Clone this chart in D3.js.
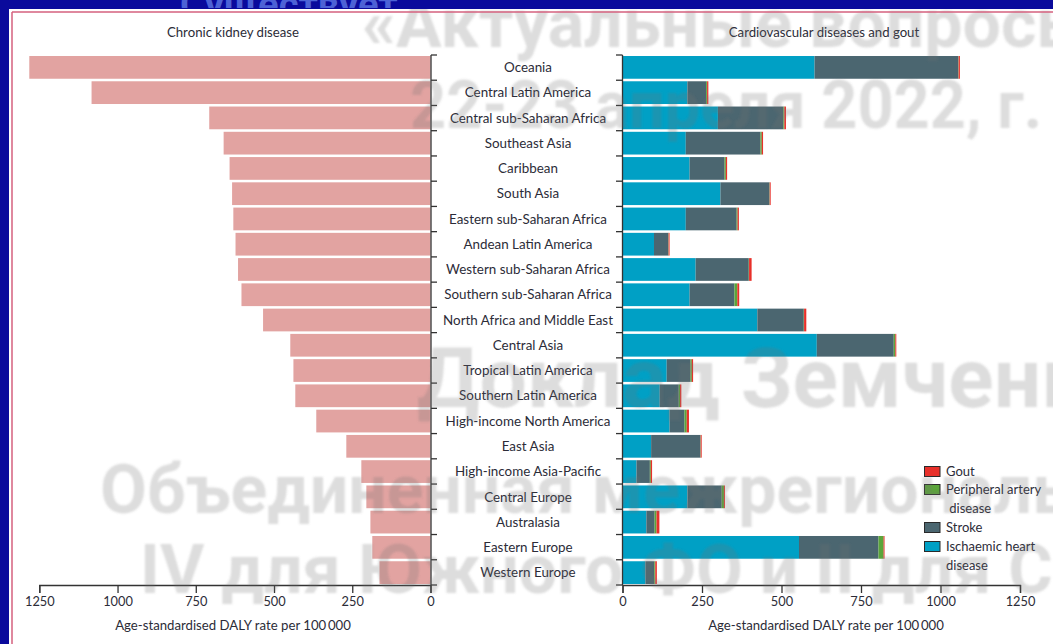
<!DOCTYPE html>
<html>
<head>
<meta charset="utf-8">
<script src="https://cdn.jsdelivr.net/npm/d3@7"></script>
<style>
  html, body { margin: 0; padding: 0; background: #ffffff; }
  svg { display: block; }
  text { font-family: Lato, "Open Sans", sans-serif; }
</style>
</head>
<body>
<svg id="chart" width="1053" height="644"></svg>
<script>
// GBD regions, ordered by chronic kidney disease burden
const regions = [
  "Oceania", "Central Latin America", "Central sub-Saharan Africa", "Southeast Asia",
  "Caribbean", "South Asia", "Eastern sub-Saharan Africa", "Andean Latin America",
  "Western sub-Saharan Africa", "Southern sub-Saharan Africa", "North Africa and Middle East",
  "Central Asia", "Tropical Latin America", "Southern Latin America",
  "High-income North America", "East Asia", "High-income Asia-Pacific",
  "Central Europe", "Australasia", "Eastern Europe", "Western Europe"
];

// Age-standardised DALY rate per 100 000
const ckdRate = [1282, 1083, 707, 661, 642, 634, 630, 623, 615, 604, 535,
                 448, 438, 432, 365, 269, 221, 205, 192, 186, 163];

const ihdRate    = [604, 204, 300, 199, 211, 308, 199, 99, 230, 211, 424, 611, 139, 117, 148, 90, 44, 204, 75, 555, 72];
const strokeRate = [452, 59, 206, 235, 110, 154, 160, 45, 167, 141, 146, 242, 75, 60, 47, 155, 42, 108, 26, 250, 28];
const padRate    = [1, 3, 3, 4, 4, 1, 3, 1, 1, 9, 1, 5, 4, 4, 7, 1, 3, 7, 6, 16, 3];
const goutRate   = [4, 4, 5, 4, 4, 3, 4, 3, 8, 6, 7, 3, 4, 4, 7, 3, 4, 3, 9, 3, 5];

const xTicks = [0, 250, 500, 750, 1000, 1250];

const causeKeys   = ["ihd", "stroke", "pad", "gout"];
const causeColors = { ihd: "#00a0c5", stroke: "#4b6670", pad: "#5ba53a", gout: "#e8302a" };
const legendItems = [
  { key: "gout",   lines: ["Gout"] },
  { key: "pad",    lines: ["Peripheral artery", " disease"] },
  { key: "stroke", lines: ["Stroke"] },
  { key: "ihd",    lines: ["Ischaemic heart", "disease"] }
];

// overlay lines of the conference slide
const slideLines = [
  { x: 362, y: 47,  size: 68, t: "«Актуальные вопросы" },
  { x: 410, y: 128, size: 66, len: 632, t: "22-23 апреля 2022, г." },
  { x: 417, y: 407, size: 84, t: "Доклад Земченкова А.Ю." },
  { x: 100, y: 513, size: 68, t: "Объединенная межрегиональная" },
  { x: 140, y: 593, size: 68, t: "IV для Южного ФО и II для Северо-Кавказского ФО" }
];

const svg = d3.select("#chart");
const ink = "#2c2c38";
const defs = svg.append("defs");
defs.append("filter").attr("id", "soft").append("feGaussianBlur").attr("stdDeviation", 0.9);
defs.append("clipPath").attr("id", "topClip").append("rect")
  .attr("x", 0).attr("y", 0).attr("width", 1053).attr("height", 8);

// shared vertical band scale
const y = d3.scaleBand().domain(regions).range([55, 585]).paddingInner(0.1).paddingOuter(0.04);

// left panel: chronic kidney disease (mirrored)
const xL = d3.scaleLinear().domain([0, 1250]).range([430.5, 39.3]);
const left = svg.append("g");
left.selectAll("rect.ckd").data(regions).join("rect")
  .attr("class", "ckd")
  .attr("x", (d, i) => xL(ckdRate[i]))
  .attr("y", d => y(d))
  .attr("width", (d, i) => xL(0) - xL(ckdRate[i]))
  .attr("height", y.bandwidth())
  .attr("fill", "#e2a3a1");

function styleAxis(g) {
  g.select(".domain").attr("stroke", "#333").attr("stroke-width", 1.3);
  g.selectAll(".tick line").attr("stroke", "#333").attr("stroke-width", 1.3);
  g.selectAll(".tick text").attr("font-size", 12.8).attr("fill", ink).style("font-family", "Lato, sans-serif");
}

left.append("g").attr("transform", "translate(0,585)")
  .call(d3.axisBottom(xL).tickValues(xTicks).tickFormat(d3.format("d")).tickSizeOuter(0).tickSize(8).tickPadding(4))
  .call(styleAxis);

// band boundary ticks on the category spines
const bounds = d3.range(regions.length + 1).map(i => 55 + i * (530 / regions.length));
const spineL = svg.append("g").attr("stroke", "#333").attr("stroke-width", 1.3);
spineL.append("line").attr("x1", 431).attr("x2", 431).attr("y1", 55).attr("y2", 585);
spineL.selectAll("line.t").data(bounds).join("line").attr("class", "t")
  .attr("x1", 431).attr("x2", 437).attr("y1", d => d).attr("y2", d => d);

// right panel: cardiovascular diseases and gout, stacked
const xR = d3.scaleLinear().domain([0, 1250]).range([622.5, 1020]);
const rows = regions.map((r, i) => ({
  region: r, ihd: ihdRate[i], stroke: strokeRate[i], pad: padRate[i], gout: goutRate[i]
}));
const stacked = d3.stack().keys(causeKeys)(rows);
const right = svg.append("g");
right.selectAll("g.layer").data(stacked).join("g")
  .attr("class", "layer")
  .attr("fill", s => causeColors[s.key])
  .selectAll("rect").data(s => s).join("rect")
  .attr("x", d => xR(d[0]))
  .attr("y", d => y(d.data.region))
  .attr("width", d => xR(d[1]) - xR(d[0]))
  .attr("height", y.bandwidth());

right.append("g").attr("transform", "translate(0,585)")
  .call(d3.axisBottom(xR).tickValues(xTicks).tickFormat(d3.format("d")).tickSizeOuter(0).tickSize(8).tickPadding(4))
  .call(styleAxis);

const spineR = svg.append("g").attr("stroke", "#333").attr("stroke-width", 1.3);
spineR.append("line").attr("x1", 622.5).attr("x2", 622.5).attr("y1", 55).attr("y2", 585);
spineR.selectAll("line.t").data(bounds).join("line").attr("class", "t")
  .attr("x1", 616).attr("x2", 622.5).attr("y1", d => d).attr("y2", d => d);

// region labels between the panels
svg.append("g").selectAll("text").data(regions).join("text")
  .attr("x", 528)
  .attr("y", d => y(d) + y.bandwidth() / 2)
  .attr("dy", "0.35em")
  .attr("text-anchor", "middle")
  .attr("font-size", 13.4)
  .attr("fill", ink)
  .text(d => d);

// panel titles and axis titles
const titles = [
  { x: 233, y: 37, t: "Chronic kidney disease" },
  { x: 824, y: 37, t: "Cardiovascular diseases and gout" },
  { x: 233, y: 630, t: "Age-standardised DALY rate per 100\u2009000" },
  { x: 826, y: 630, t: "Age-standardised DALY rate per 100\u2009000" }
];
svg.append("g").selectAll("text").data(titles).join("text")
  .attr("x", d => d.x).attr("y", d => d.y)
  .attr("text-anchor", "middle").attr("font-size", 13.2).attr("fill", ink)
  .text(d => d.t);

// legend
const lg = svg.append("g");
const legendY = { gout: 466, pad: 484, stroke: 522, ihd: 541 };
legendItems.forEach(item => {
  const y0 = legendY[item.key];
  lg.append("rect").attr("x", 924.5).attr("y", y0 + 0.5).attr("width", 15.5).attr("height", 10)
    .attr("fill", causeColors[item.key]).attr("stroke", "#2a2a2a").attr("stroke-width", 1);
  item.lines.forEach((line, j) => {
    lg.append("text").attr("x", 946).attr("y", y0 + 10 + j * 18.5)
      .attr("font-size", 13).attr("fill", ink).attr("xml:space", "preserve").text(line);
  });
});

// translucent slide text laid over the figure
svg.append("g").attr("pointer-events", "none").attr("filter", "url(#soft)")
  .selectAll("text").data(slideLines).join("text")
  .attr("x", d => d.x).attr("y", d => d.y)
  .attr("font-size", d => d.size).attr("font-weight", 700)
  .attr("textLength", d => d.len || null)
  .attr("lengthAdjust", d => d.len ? "spacingAndGlyphs" : null)
  .style("font-family", "Roboto, sans-serif")
  .attr("fill", "#707070").attr("fill-opacity", 0.24)
  .text(d => d.t);

// slide background strips and figure frame
svg.append("rect").attr("x", 0).attr("y", 0).attr("width", 1053).attr("height", 9).attr("fill", "#0a0a9c");
svg.append("rect").attr("x", 0).attr("y", 0).attr("width", 9).attr("height", 644).attr("fill", "#0a0a9c");
svg.append("text").attr("x", 180).attr("y", 18).attr("font-size", 38).attr("font-weight", 700)
  .attr("fill", "#4d62d6").attr("clip-path", "url(#topClip)")
  .style("font-family", "Roboto, sans-serif").text("Существует");
svg.append("line").attr("x1", 12).attr("x2", 1053).attr("y1", 12).attr("y2", 12).attr("stroke", "#d4607e").attr("stroke-width", 1.5);
svg.append("line").attr("x1", 12).attr("x2", 12).attr("y1", 12).attr("y2", 644).attr("stroke", "#d4607e").attr("stroke-width", 1.5);
</script>
</body>
</html>
